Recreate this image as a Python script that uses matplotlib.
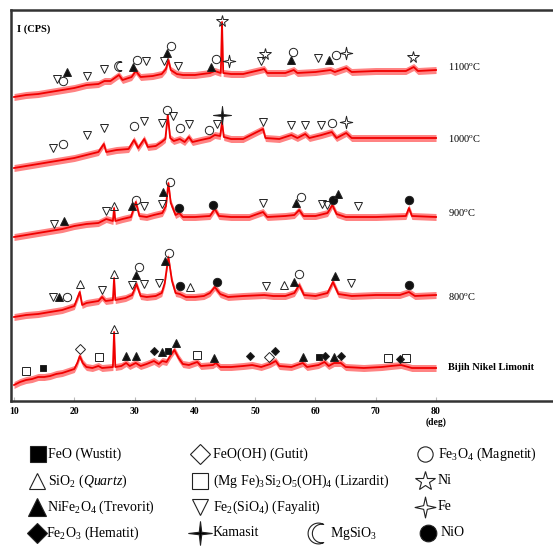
import numpy as np
import matplotlib
matplotlib.use("Agg")
import matplotlib.pyplot as plt
from matplotlib.path import Path

plt.rcParams['font.family'] = ['Liberation Serif', 'DejaVu Serif']
plt.rcParams['mathtext.fontset'] = 'custom'
plt.rcParams['mathtext.rm'] = 'Liberation Serif'
plt.rcParams['mathtext.it'] = 'Liberation Serif:italic'
plt.rcParams['mathtext.bf'] = 'Liberation Serif:bold'

# --- diffraction patterns (2theta, counts, stacked with offsets) ---
bijih_tt = [10, 11, 12, 13, 14, 15, 16, 17, 18, 19, 20, 20.5, 20.9, 21.4, 22, 23, 24, 24.6,
            26.4, 26.6, 26.8, 27.8, 28.6, 29.2, 30.2, 31, 32, 33.2, 34, 34.6, 35.3, 36.0, 36.6,
            37.3, 38, 39, 40.4, 41, 43, 43.5, 44.2, 46, 48, 49.5, 51, 52.5, 53.4, 54, 56, 57.9,
            58.6, 60.5, 61.5, 62.2, 63.1, 64.2, 65, 68, 71, 72.5, 74.2, 76, 80]
bijih_i = [16, 19, 21, 22, 24, 24, 25, 27, 28, 30, 32, 38, 45, 38, 34, 33, 35, 33,
           34, 69, 34, 35, 38, 35, 38, 35, 37, 40, 37, 40, 39, 46, 51,
           43, 37, 36, 39, 35, 36, 38, 34, 34, 35, 36, 34, 37, 40, 35, 34, 38,
           34, 36, 39, 35, 38, 38, 34, 33, 34, 35, 36, 33, 33]

t800_tt = [10, 12, 14, 16, 18, 20, 20.9, 21.3, 22, 24, 24.6, 25.2, 26.4, 26.6, 26.8, 28.5,
           29.6, 30.3, 31, 32, 33.5, 34.5, 35.0, 35.6, 36.2, 36.8, 37.5, 38.5, 40, 41.5, 42.5,
           43.3, 44.2, 45.5, 48, 51.5, 53, 55, 56.5, 57.3, 58.1, 60, 62, 62.9, 63.8, 66, 70,
           74, 75.5, 76.5, 80]
t800_i = [84, 86, 87, 89, 91, 95, 109, 96, 98, 100, 104, 100, 101, 123, 101, 103,
          106, 117, 105, 104, 105, 108, 118, 144, 120, 108, 107, 104, 104, 105, 108,
          114, 107, 104, 105, 106, 105, 105, 108, 116, 106, 105, 108, 119, 107, 105, 106,
          106, 109, 105, 106]

t900_tt = [10, 12, 14, 16, 18, 20, 22, 24, 25.3, 26.4, 26.6, 26.8, 28, 29.4, 30.2, 30.8, 32,
           33.2, 34.6, 35.2, 35.6, 36, 36.8, 37.4, 38, 40, 42.5, 43.3, 44, 46, 49, 51.3, 52,
           55, 56.5, 57.3, 58, 60, 62, 62.8, 63.5, 65, 70, 75.0, 75.5, 76, 80]
t900_i = [164, 166, 168, 170, 172, 175, 177, 178, 182, 180, 193, 180, 182, 184, 199, 185, 184,
          186, 188, 195, 218, 198, 186, 188, 184, 184, 185, 192, 185, 184, 184, 189, 184,
          185, 186, 191, 185, 185, 188, 196, 187, 184, 184, 185, 193, 185, 184]

t1000_tt = [10, 12, 14, 16, 18, 20, 22, 24, 24.9, 25.3, 27, 29, 29.9, 30.6, 31.6, 32.2, 33.5,
            34.5, 35.1, 35.5, 35.9, 36.5, 37.5, 38.3, 39, 39.6, 41, 42.5, 43.3, 44.2, 44.5,
            44.8, 46, 48, 51.3, 51.7, 54, 56, 57, 58.3, 59, 61, 62.7, 63.5, 65.1, 66, 70, 75, 80]
t1000_i = [233, 235, 237, 239, 241, 243, 246, 249, 257, 249, 251, 252, 261, 253, 262, 254, 255,
           259, 262, 286, 263, 260, 262, 259, 264, 259, 261, 263, 266, 265, 279,
           264, 262, 262, 272, 263, 262, 266, 263, 267, 263, 266, 269, 263, 268, 263, 263, 263, 263]

t1100_tt = [10, 12, 14, 16, 18, 20, 22, 24, 25, 26, 27.4, 28, 29.5, 30.2, 31, 33, 34.5, 35.2,
            35.6, 36, 37, 38, 40, 42.5, 43.3, 44.3, 44.5, 44.7, 46, 48, 51.5, 52, 55, 56.4, 57,
            60, 62.5, 63.2, 65.1, 66, 70, 75, 76.3, 77, 80]
t1100_i = [304, 306, 307, 309, 311, 313, 316, 317, 320, 320, 326, 321, 324, 330, 324, 325, 327, 332,
           341, 331, 327, 326, 326, 328, 330, 328, 379, 328, 327, 327, 332, 328, 328, 331, 328,
           329, 331, 329, 333, 329, 330, 330, 334, 330, 331]

# --- phase identification per pattern: (phase, 2theta, marker height) ---
marks_1100 = [('fayalit', 17.1, 322), ('magnetit', 18.1, 320), ('trevorit', 18.8, 329),
              ('fayalit', 22.1, 325), ('fayalit', 24.9, 332), ('mgsio3', 27.4, 335),
              ('trevorit', 29.7, 334), ('magnetit', 30.4, 341), ('fayalit', 31.9, 340),
              ('fayalit', 34.9, 340), ('trevorit', 35.4, 348), ('magnetit', 36.1, 355),
              ('fayalit', 37.2, 335), ('trevorit', 42.7, 334), ('magnetit', 43.5, 342),
              ('ni', 44.5, 380), ('fe', 45.6, 340), ('fayalit', 51.0, 340), ('ni', 51.6, 347),
              ('trevorit', 55.9, 341), ('magnetit', 56.3, 349), ('fayalit', 60.4, 343),
              ('trevorit', 62.2, 341), ('magnetit', 63.4, 346), ('fe', 65.1, 348), ('ni', 76.2, 344)]
marks_1000 = [('fayalit', 16.5, 253), ('magnetit', 18.1, 257), ('fayalit', 22.1, 266),
              ('fayalit', 24.9, 273), ('magnetit', 29.9, 275), ('fayalit', 31.6, 280),
              ('fayalit', 34.5, 278), ('magnetit', 35.4, 291), ('fayalit', 36.4, 285),
              ('magnetit', 37.5, 273), ('fayalit', 39.0, 277), ('magnetit', 42.3, 271),
              ('fayalit', 43.6, 277), ('kamasit', 44.5, 286), ('fayalit', 51.3, 279),
              ('fayalit', 55.9, 276), ('fayalit', 58.3, 276), ('fayalit', 60.9, 276),
              ('magnetit', 62.7, 278), ('fe', 65.1, 279)]
marks_900 = [('fayalit', 16.6, 177), ('trevorit', 18.3, 180), ('fayalit', 25.3, 190),
             ('quartz', 26.6, 195), ('trevorit', 29.6, 195), ('magnetit', 30.2, 201),
             ('fayalit', 31.6, 195), ('fayalit', 34.5, 197), ('trevorit', 34.7, 209),
             ('magnetit', 35.9, 219), ('nio', 37.4, 193), ('nio', 43.0, 196),
             ('fayalit', 51.3, 198), ('trevorit', 56.8, 198), ('magnetit', 57.6, 204),
             ('fayalit', 61.1, 197), ('fayalit', 61.9, 196), ('nio', 62.9, 201),
             ('trevorit', 63.7, 207), ('fayalit', 67.0, 195), ('nio', 75.5, 201)]
marks_800 = [('fayalit', 16.5, 104), ('trevorit', 17.5, 104), ('magnetit', 18.8, 104),
             ('quartz', 20.9, 117), ('fayalit', 24.6, 111), ('quartz', 26.6, 127),
             ('fayalit', 29.6, 116), ('trevorit', 30.2, 126), ('magnetit', 30.7, 134),
             ('fayalit', 31.6, 117), ('fayalit', 34.0, 118), ('trevorit', 35.0, 140),
             ('magnetit', 35.7, 148), ('nio', 37.5, 115), ('quartz', 39.2, 114),
             ('nio', 43.6, 119), ('fayalit', 51.8, 115), ('quartz', 54.8, 116),
             ('trevorit', 56.4, 119), ('magnetit', 57.3, 127), ('trevorit', 63.2, 125),
             ('fayalit', 65.9, 118), ('nio', 75.5, 116)]
marks_bijih = [('lizardit', 12.0, 30), ('wustit', 14.8, 33), ('gutit', 20.9, 52),
               ('lizardit', 24.1, 44), ('quartz', 26.6, 72), ('trevorit', 28.6, 45),
               ('trevorit', 30.2, 45), ('hematit', 33.2, 50), ('trevorit', 34.5, 49),
               ('wustit', 35.5, 50), ('trevorit', 36.9, 58), ('lizardit', 40.4, 46),
               ('trevorit', 43.2, 43), ('hematit', 49.1, 45), ('gutit', 52.3, 44),
               ('hematit', 53.3, 50), ('trevorit', 57.9, 44), ('wustit', 60.6, 44),
               ('hematit', 61.6, 45), ('trevorit', 63.1, 44), ('hematit', 64.2, 45),
               ('lizardit', 72.0, 43), ('hematit', 74.0, 42), ('lizardit', 75.0, 43)]

sample_names = ['1100$^{\\mathrm{o}}$C', '1000$^{\\mathrm{o}}$C', '900$^{\\mathrm{o}}$C',
                '800$^{\\mathrm{o}}$C', 'Bijih Nikel Limonit']
sample_label_y = [334, 262, 188, 104, 33]

x_ticks = [10, 20, 30, 40, 50, 60, 70, 80]
x_tick_labels = ['10', '20', '30', '40', '50', '60', '70', '80\n(deg)']


# custom marker shapes
def star4(inner):
    verts = []
    for k in range(4):
        a = np.pi / 2 * k
        verts.append((np.cos(a), np.sin(a)))
        b = a + np.pi / 4
        verts.append((inner * np.cos(b), inner * np.sin(b)))
    verts.append(verts[0])
    return Path(verts, [Path.MOVETO] + [Path.LINETO] * 7 + [Path.CLOSEPOLY])


def crescent():
    outer = np.deg2rad(np.linspace(60, 300, 40))
    inner = np.deg2rad(np.linspace(283, 77, 40))
    pts = [(np.cos(t), np.sin(t)) for t in outer]
    pts += [(0.3 + 0.889 * np.cos(t), 0.889 * np.sin(t)) for t in inner]
    pts.append(pts[0])
    return Path(pts, [Path.MOVETO] + [Path.LINETO] * (len(pts) - 2) + [Path.CLOSEPOLY])


# phase -> (marker, filled, size on trace, size in key)
phase_style = {
    'wustit': ('s', True, 4.5, 11),
    'gutit': ('D', False, 5, 10),
    'magnetit': ('o', False, 6, 11),
    'quartz': ('^', False, 6, 12),
    'lizardit': ('s', False, 5.5, 12),
    'ni': ('*', False, 8.5, 15),
    'trevorit': ('^', True, 6, 13),
    'fayalit': ('v', False, 6, 12),
    'fe': (star4(0.25), False, 9, 15),
    'hematit': ('D', True, 4.5, 10),
    'kamasit': (star4(0.15), True, 13, 17),
    'mgsio3': (crescent(), False, 7, 15),
    'nio': ('o', True, 6, 12),
}

fig = plt.figure(figsize=(5.53, 5.46), dpi=100)
ax = fig.add_axes([11 / 553, 145 / 546, 542 / 553, 391 / 546])

patterns = [(t1100_tt, t1100_i, marks_1100), (t1000_tt, t1000_i, marks_1000),
            (t900_tt, t900_i, marks_900), (t800_tt, t800_i, marks_800),
            (bijih_tt, bijih_i, marks_bijih)]

for (tt, counts, marks), name, ly in zip(patterns, sample_names, sample_label_y):
    tt = np.array(tt)
    counts = np.array(counts)
    ax.fill_between(tt, counts - 3.5, counts + 3.5, color='#ff3030', alpha=0.6, lw=0)
    ax.plot(tt, counts, color='#f00000', lw=1.3)
    for phase, pos, h in marks:
        m, filled, ms, _ = phase_style[phase]
        ax.plot(pos, h, marker=m, ms=ms, mew=0.7, color='#222222',
                mfc='#111111' if filled else 'none', ls='none')
    ax.text(82.0, ly, name, fontsize=7.5, va='center', ha='left',
            fontweight='bold' if name.startswith('Bijih') else 'normal')

ax.text(10.5, 372, 'I (CPS)', fontsize=7.5, fontweight='bold', va='center', ha='left')

ax.set_xlim(9.5, 99.4)
ax.set_ylim(0, 391)
ax.set_yticks([])
ax.set_xticks(x_ticks)
ax.set_xticklabels(x_tick_labels, fontsize=7, fontweight='bold', linespacing=1.3)
ax.tick_params(axis='x', direction='in', length=3, color='#bbbbbb', pad=4)
ax.spines['right'].set_visible(False)
for s in ['top', 'left', 'bottom']:
    ax.spines[s].set_linewidth(1.8)
    ax.spines[s].set_color('#333333')

# phase key below the plot
key = fig.add_axes([0, 0, 1, 145 / 546])
key.set_xlim(0, 553)
key.set_ylim(546, 401)
key.axis('off')

key_entries = [
    ('wustit', 'FeO (Wustit)', 38, 48, 454),
    ('gutit', 'FeO(OH) (Gutit)', 200, 213, 454),
    ('magnetit', 'Fe$_3$O$_4$ (Magnetit)', 425, 438, 454),
    ('quartz', 'SiO$_2$ ($\\mathit{Quartz}$)', 37, 48, 481),
    ('lizardit', '(Mg Fe)$_3$Si$_2$O$_5$(OH)$_4$ (Lizardit)', 200, 213, 481),
    ('ni', 'Ni', 425, 438, 481),
    ('trevorit', 'NiFe$_2$O$_4$ (Trevorit)', 37, 47, 507),
    ('fayalit', 'Fe$_2$(SiO$_4$) (Fayalit)', 200, 213, 507),
    ('fe', 'Fe', 425, 438, 507),
    ('hematit', 'Fe$_2$O$_3$ (Hematit)', 37, 46, 533),
    ('kamasit', 'Kamasit', 200, 213, 533),
    ('mgsio3', 'MgSiO$_3$', 318, 330, 533),
    ('nio', 'NiO', 428, 441, 533),
]
for phase, label, mx, tx, y in key_entries:
    m, filled, _, ms = phase_style[phase]
    key.plot(mx, y, marker=m, ms=ms, mew=0.8, color='#222222',
             mfc='#000000' if filled else 'none', ls='none')
    key.text(tx, y, label, fontsize=10, va='center', ha='left')

fig.savefig('out.png', dpi=100)
